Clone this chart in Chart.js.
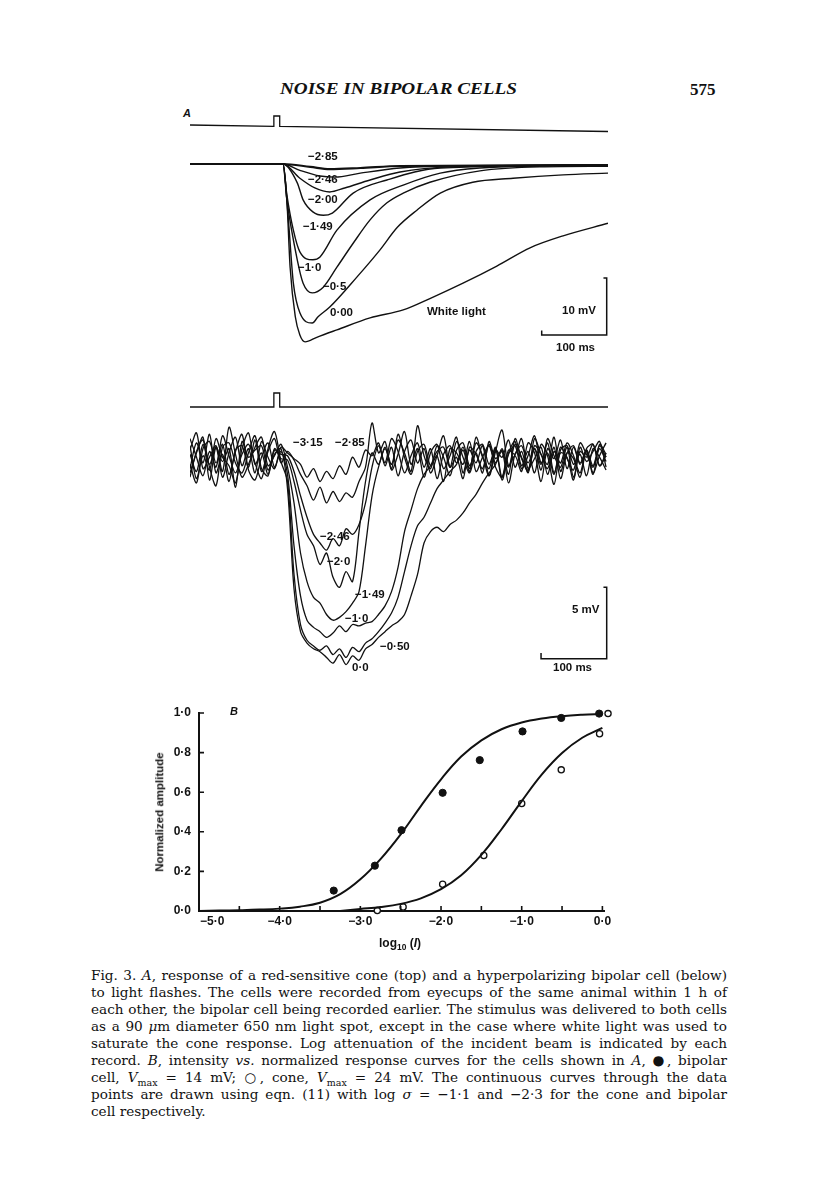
<!DOCTYPE html>
<html>
<head>
<meta charset="utf-8">
<script src="https://cdn.jsdelivr.net/npm/chart.js@4.4.1/dist/chart.umd.min.js"></script>
<style>
  body { margin: 0; background: #fff; }
  #page { position: relative; width: 816px; height: 1181px; overflow: hidden; background: #fff; color: #111;
          font-family: "Liberation Sans", Arial, sans-serif; }
  canvas { position: absolute; }
  .t { position: absolute; white-space: nowrap; line-height: 1; }
  .lab { font-size: 11.5px; font-weight: bold; }
  .cap { position: absolute; left: 91px; width: 636px; font-family: "DejaVu Serif", "Liberation Serif", serif;
         font-size: 13.6px; line-height: 16px; text-align: justify; text-align-last: justify; }
  .cap.last { text-align-last: left; }
  sub { font-size: 70%; line-height: 0; }
</style>
</head>
<body>
<div id="page">
  <div class="t" id="head" style="left:280px;top:81px;font-family:'Liberation Serif',serif;font-style:italic;font-weight:bold;font-size:16px;">NOISE IN BIPOLAR CELLS</div>
  <div class="t" style="left:690px;top:81px;font-family:'Liberation Serif',serif;font-weight:bold;font-size:17px;">575</div>

  <div class="t" style="left:183px;top:108px;font-style:italic;font-weight:bold;font-size:11px;">A</div>

  <canvas id="coneStim" width="418" height="26" style="left:190px;top:110px;"></canvas>
  <canvas id="coneChart" width="418" height="200" style="left:190px;top:150px;"></canvas>
  <canvas id="bipStim" width="418" height="30" style="left:190px;top:385px;"></canvas>
  <canvas id="bipChart" width="418" height="265" style="left:190px;top:415px;"></canvas>
  <canvas id="doseChart" width="520" height="245" style="left:100px;top:695px;"></canvas>

  <!-- cone labels -->
  <div class="t lab" style="left:308px;top:151px;">−2·85</div>
  <div class="t lab" style="left:308px;top:174px;">−2·46</div>
  <div class="t lab" style="left:308px;top:194px;">−2·00</div>
  <div class="t lab" style="left:303px;top:221px;">−1·49</div>
  <div class="t lab" style="left:298px;top:262px;">−1·0</div>
  <div class="t lab" style="left:323px;top:281px;">−0·5</div>
  <div class="t lab" style="left:330px;top:307px;">0·00</div>
  <div class="t lab" style="left:427px;top:306px;">White light</div>
  <div class="t lab" style="left:562px;top:305px;">10 mV</div>
  <div class="t lab" style="left:556px;top:342px;">100 ms</div>

  <!-- bipolar labels -->
  <div class="t lab" style="left:293px;top:437px;">−3·15</div>
  <div class="t lab" style="left:335px;top:437px;">−2·85</div>
  <div class="t lab" style="left:320px;top:531px;">−2·46</div>
  <div class="t lab" style="left:327px;top:556px;">−2·0</div>
  <div class="t lab" style="left:355px;top:589px;">−1·49</div>
  <div class="t lab" style="left:345px;top:613px;">−1·0</div>
  <div class="t lab" style="left:380px;top:641px;">−0·50</div>
  <div class="t lab" style="left:352px;top:662px;">0·0</div>
  <div class="t lab" style="left:572px;top:604px;">5 mV</div>
  <div class="t lab" style="left:553px;top:662px;">100 ms</div>

  <!-- panel B texts -->
  <div class="t" style="left:230px;top:706px;font-style:italic;font-weight:bold;font-size:11px;">B</div>
  <div class="t" style="left:160px;top:812px;font-size:11.5px;font-weight:bold;transform:translate(-50%,-50%) rotate(-90deg);">Normalized amplitude</div>
  <div class="t" style="left:400px;top:943px;font-size:12px;font-weight:bold;transform:translate(-50%,-50%);">log<sub>10</sub> (<i>I</i>)</div>

  <!-- caption -->
  <div class="cap" style="top:967px;">Fig. 3. <i>A</i>, response of a red-sensitive cone (top) and a hyperpolarizing bipolar cell (below)</div>
  <div class="cap" style="top:984px;">to light flashes. The cells were recorded from eyecups of the same animal within 1 h of</div>
  <div class="cap" style="top:1001px;">each other, the bipolar cell being recorded earlier. The stimulus was delivered to both cells</div>
  <div class="cap" style="top:1018px;">as a 90 <i>μ</i>m diameter 650 nm light spot, except in the case where white light was used to</div>
  <div class="cap" style="top:1035px;">saturate the cone response. Log attenuation of the incident beam is indicated by each</div>
  <div class="cap" style="top:1052px;">record. <i>B</i>, intensity <i>vs.</i> normalized response curves for the cells shown in <i>A</i>, ●, bipolar</div>
  <div class="cap" style="top:1069px;">cell, <i>V</i><sub>max</sub> = 14 mV; ○, cone, <i>V</i><sub>max</sub> = 24 mV. The continuous curves through the data</div>
  <div class="cap" style="top:1086px;">points are drawn using eqn. (11) with log <i>σ</i> = −1·1 and −2·3 for the cone and bipolar</div>
  <div class="cap last" style="top:1103px;">cell respectively.</div>
</div>

<script>
// ---------- A (top): red-sensitive cone, time in ms, voltage in mV ----------
const coneStimT = [0, 129, 129, 138, 138, 643];
const coneStimV = [0, -0.15, 1, 1, -0.16, -0.72];

const coneWhite = [[0,0],[143,0],[149,-6.3],[154,-18.1],[162,-26.8],[169,-30.0],[177,-31.2],[195,-30.4],[226,-29.1],[277,-27.0],[328,-25.6],[369,-23.6],[420,-20.9],[472,-17.9],[523,-14.7],[574,-12.6],[643,-10.4]];
const cone000 = [[0,0],[143,0],[151,-9.3],[159,-20.9],[169,-26.1],[188,-27.9],[197,-26.8],[215,-25.1],[257,-19.8],[292,-15.1],[319,-11.1],[349,-8.1],[385,-5.1],[435,-3.2],[497,-2.5],[574,-1.9],[643,-1.6]];
const cone050 = [[0,0],[143,0],[149,-6.3],[165,-16.8],[174,-20.9],[188,-22.6],[205,-21.6],[226,-18.1],[251,-13.9],[277,-9.8],[303,-6.8],[328,-5.1],[369,-3.2],[446,-1.2],[538,-0.5],[643,-0.4]];
const cone100 = [[0,0],[143,0],[149,-5.4],[159,-11.6],[169,-15.4],[189,-16.8],[200,-16.3],[226,-11.6],[277,-6.3],[328,-3.7],[385,-1.6],[446,-0.7],[538,-0.35],[643,-0.2]];
const cone149 = [[0,0],[143,0],[165,-3.3],[174,-6.3],[189,-8.4],[205,-9.0],[219,-8.6],[251,-5.1],[303,-2.8],[385,-0.7],[643,-0.2]];
const cone200 = [[0,0],[143,0],[169,-2.5],[192,-4.2],[215,-4.9],[238,-4.2],[277,-2.8],[323,-1.4],[400,-0.5],[643,-0.2]];
const cone246 = [[0,0],[143,0],[169,-1.1],[200,-2.1],[223,-2.3],[262,-1.6],[323,-0.7],[400,-0.35],[643,-0.2]];
const cone285 = [[0,0],[143,0],[185,-0.5],[215,-0.9],[262,-0.7],[323,-0.35],[643,-0.2]];
const coneBarT = [541, 541, 641, 641, 636];
const coneBarV = [-29.2, -30, -30, -20, -20];

// ---------- A (below): hyperpolarizing bipolar cell ----------
const bipStimT = [0, 129, 129, 138, 138, 643];
const bipStimV = [0, 0, 1, 1, 0, 0];

const bipT = [0,10,20,30,40,50,60,70,80,90,100,110,120,130,140,150,160,170,180,190,200,210,220,230,240,250,260,270,280,290,
  300,310,320,330,340,350,360,370,380,390,400,410,420,430,440,450,460,470,480,490,500,510,520,530,540,550,560,570,580,590,
  600,610,620,630,640];
const bip315 = [0.4,-0.8,1.1,-0.3,0.9,-1.2,0.5,1.6,-0.4,0.8,-0.9,1.3,0.2,-0.6,0.9,
  0.5,0.1,-0.3,-1.2,-0.6,-1.5,-0.8,-1.3,-0.4,-1.0,0.2,-0.5,0.7,0.3,1.2,
  -0.4,0.9,-1.1,0.6,1.4,-0.2,0.8,-0.9,0.3,1.7,-0.5,0.2,-1.3,0.9,0.4,-0.6,1.1,-0.2,0.7,-1.0,1.5,0.1,-0.7,0.8,-0.3,1.2,-0.9,0.5,0.2,-1.4,0.9,-0.1,0.6,1.3,-0.5];
const bip285 = [-0.6,1.2,-0.2,1.8,-0.9,0.4,-1.5,0.7,1.0,-0.5,1.4,-0.8,0.6,1.5,-0.2,
  0.6,0.0,-1.0,-1.8,-2.8,-1.9,-3.0,-2.2,-2.9,-2.3,-2.6,-1.5,-0.5,2.6,0.5,
  1.3,-0.7,0.4,2.0,-0.3,0.8,-1.2,0.5,1.1,-0.6,0.3,1.6,-0.9,0.7,-0.2,1.0,-1.1,0.6,2.1,-0.4,0.3,-0.8,1.2,0.5,-1.5,0.8,0.1,1.4,-0.6,0.9,-0.3,0.6,-1.0,1.1,0.4];
const bip246 = [1.0,-1.3,0.3,-0.7,1.5,0.2,-0.4,-1.6,0.8,1.9,-0.3,0.5,-1.0,0.7,0.4,
  0.3,-0.8,-2.5,-4.0,-5.2,-5.8,-6.3,-5.5,-6.0,-4.8,-5.2,-4.5,-3.0,-0.5,1.0,
  -0.2,1.5,0.6,-0.9,0.3,1.2,-0.5,0.8,-1.3,0.4,1.0,-0.2,0.7,-0.8,1.6,0.2,-0.6,0.9,-1.2,0.5,1.3,-0.4,0.6,-0.9,1.1,0.3,-1.7,0.7,1.0,-0.3,0.4,-1.1,0.8,0.2,-0.7];
const bip200 = [-1.2,0.6,1.4,-0.5,-1.8,0.9,1.2,-0.2,-0.9,0.5,1.7,-0.6,-1.1,0.8,0.1,
  0.0,-1.5,-3.5,-5.2,-6.0,-7.3,-6.5,-8.2,-8.9,-7.8,-8.5,-5.0,-1.5,0.5,-0.3,
  0.9,-0.6,1.8,0.2,-1.0,0.6,1.1,-0.4,0.3,-1.5,0.8,0.5,-0.3,1.3,-0.8,0.2,1.0,-0.5,-1.2,0.7,0.4,1.5,-0.6,0.1,0.9,-1.0,0.6,-0.2,1.2,0.3,-0.9,0.7,-0.4,1.0,0.2];
const bip149 = [0.7,1.9,-0.6,0.2,1.0,-0.8,2.3,0.4,-1.2,-0.3,0.9,1.6,-0.4,0.3,1.1,
  -0.5,-3.0,-6.5,-8.5,-9.6,-10.0,-10.8,-11.2,-11.0,-10.6,-10.0,-9.2,-6.0,-2.5,-0.5,
  0.8,-0.3,1.4,0.5,-0.8,2.4,0.3,-0.6,1.0,0.2,-1.1,0.7,1.2,-0.4,0.5,-0.9,1.3,0.1,0.6,-1.6,0.4,1.0,-0.2,0.8,-0.7,1.5,0.3,-0.5,0.9,-1.2,0.6,0.2,1.1,-0.4,0.5];
const bip100 = [-0.3,-1.6,0.8,1.3,-0.2,1.1,-1.0,0.6,1.8,-0.7,-1.4,0.2,1.2,-0.5,0.6,
  -1.0,-6.0,-9.5,-11.2,-11.7,-12.0,-12.4,-12.1,-11.6,-12.0,-11.5,-11.6,-11.4,-11.3,-10.8,
  -10.2,-9.2,-7.5,-5.0,-3.5,-2.0,-1.0,-0.4,0.6,0.9,-0.5,1.3,0.2,-0.9,0.6,1.1,-0.3,0.8,-1.4,0.4,1.0,-0.6,0.3,1.7,-0.2,0.5,-1.0,0.9,0.1,-0.7,1.2,0.4,-0.5,0.8,-0.1];
const bip050 = [1.5,0.2,-1.1,0.6,-0.5,1.7,0.3,-0.9,0.4,1.1,-0.2,-1.3,0.8,2.0,-0.1,
  -1.5,-8.0,-11.5,-12.6,-13.0,-13.3,-13.0,-13.6,-13.2,-13.8,-13.1,-13.4,-12.8,-12.5,-12.0,
  -11.4,-10.7,-9.6,-7.8,-6.0,-4.6,-4.0,-3.0,-2.0,-1.4,-0.8,-0.3,0.9,-0.6,1.2,0.3,-1.1,0.7,0.2,1.4,-0.5,0.6,-0.9,1.0,0.4,-0.3,1.6,-0.8,0.5,0.1,-1.2,0.8,1.1,-0.4,0.3];
const bip000 = [-0.9,0.5,1.6,-1.4,0.9,-0.1,0.8,-1.9,1.3,0.2,0.7,1.0,-0.7,0.4,0.8,
  -2.0,-9.0,-12.0,-12.8,-13.2,-13.4,-13.8,-14.2,-13.6,-14.3,-13.7,-14.0,-13.2,-12.9,-12.4,
  -12.0,-11.6,-11.3,-10.8,-9.5,-8.0,-5.8,-5.0,-4.7,-5.0,-4.5,-4.2,-3.7,-3.0,-2.4,-1.6,-0.9,-0.3,0.8,-0.5,1.1,0.2,-0.8,1.5,0.4,-0.6,0.9,-1.3,0.5,1.0,-0.2,0.7,-0.9,0.3,1.2];
const bipBarT = [540, 540, 641, 641, 636];
const bipBarV = [-13.5, -13.9, -13.9, -8.9, -8.9];

// ---------- B: intensity vs normalized amplitude ----------
const curveX = [-5.0,-4.75,-4.5,-4.25,-4.0,-3.75,-3.5,-3.25,-3.0,-2.75,-2.5,-2.25,-2.0,-1.75,-1.5,-1.25,-1.0,-0.75,-0.5,-0.25,0.0];
const bipCurveY = [0.0,0.002,0.004,0.007,0.012,0.022,0.042,0.085,0.16,0.262,0.387,0.53,0.665,0.78,0.862,0.918,0.952,0.972,0.984,0.991,0.995];
const coneCurveX = [-3.25,-3.0,-2.75,-2.5,-2.25,-2.0,-1.75,-1.5,-1.25,-1.0,-0.75,-0.5,-0.25,0.0];
const coneCurveY = [0.0,0.01,0.02,0.036,0.064,0.11,0.18,0.283,0.413,0.555,0.69,0.798,0.875,0.925];
const bipPtsX = [-3.33,-2.82,-2.49,-1.98,-1.52,-0.99,-0.51,-0.04];
const bipPtsY = [0.103,0.229,0.408,0.597,0.762,0.907,0.975,0.997];
const conePtsX = [-2.79,-2.47,-1.98,-1.47,-1.0,-0.51,-0.035,0.07];
const conePtsY = [0.002,0.02,0.135,0.28,0.543,0.713,0.895,0.997];
const xMajor = [-5, -4, -3, -2, -1, 0];
const xLabels = ['−5·0', '−4·0', '−3·0', '−2·0', '−1·0', '0·0'];
const xMarks = [-4.5, -4, -3.5, -3, -2.5, -2, -1.5, -1, -0.5, 0];
const yMarks = [0.2, 0.4, 0.6, 0.8, 1.0];

const INK = '#111';
const SANS = '"Liberation Sans", Arial, sans-serif';

function pairs(xs, ys) {
  return xs.map((x, i) => ({ x: x, y: ys[i] }));
}
function fromPairs(arr) {
  return arr.map(p => ({ x: p[0], y: p[1] }));
}

function traceLine(data, width, extra) {
  return Object.assign({
    data: data,
    borderColor: INK,
    borderWidth: width,
    pointRadius: 0,
    fill: false
  }, extra || {});
}

// plain chart with hidden axes, the canvas is the plot area
function traceChart(id, datasets, xmin, xmax, ymin, ymax) {
  return new Chart(document.getElementById(id), {
    type: 'line',
    data: { datasets: datasets },
    options: {
      responsive: false,
      animation: false,
      layout: { padding: 0 },
      plugins: { legend: { display: false }, tooltip: { enabled: false } },
      scales: {
        x: { type: 'linear', min: xmin, max: xmax, display: false },
        y: { type: 'linear', min: ymin, max: ymax, display: false }
      }
    }
  });
}

// stimulus traces
traceChart('coneStim', [traceLine(pairs(coneStimT, coneStimV), 1.3)], 0, 643, -1.222, 1.667);
traceChart('bipStim', [traceLine(pairs(bipStimT, bipStimV), 1.3)], 0, 643, -0.571, 1.571);

// cone records
const smooth = { cubicInterpolationMode: 'monotone' };
traceChart('coneChart', [
  traceLine(fromPairs(cone285), 2.2, smooth),
  traceLine(fromPairs(cone246), 1.4, smooth),
  traceLine(fromPairs(cone200), 1.4, smooth),
  traceLine(fromPairs(cone149), 1.4, smooth),
  traceLine(fromPairs(cone100), 1.4, smooth),
  traceLine(fromPairs(cone050), 1.4, smooth),
  traceLine(fromPairs(cone000), 1.4, smooth),
  traceLine(fromPairs(coneWhite), 1.4, smooth),
  traceLine(pairs(coneBarT, coneBarV), 1.5)
], 0, 643, -32.63, 2.46);

// bipolar records
const noisy = { tension: 0.3 };
traceChart('bipChart', [
  traceLine(pairs(bipT, bip315), 1.3, noisy),
  traceLine(pairs(bipT, bip285), 1.3, noisy),
  traceLine(pairs(bipT, bip246), 1.3, noisy),
  traceLine(pairs(bipT, bip200), 1.3, noisy),
  traceLine(pairs(bipT, bip149), 1.3, noisy),
  traceLine(pairs(bipT, bip100), 1.3, noisy),
  traceLine(pairs(bipT, bip050), 1.3, noisy),
  traceLine(pairs(bipT, bip000), 1.3, noisy),
  traceLine(pairs(bipBarT, bipBarV), 1.5)
], 0, 643, -15.38, 3.15);

// inward tick marks and x labels of panel B
const inwardTicks = {
  id: 'inwardTicks',
  afterDraw(chart) {
    const ctx = chart.ctx;
    const a = chart.chartArea;
    const x = chart.scales.x, y = chart.scales.y;
    ctx.save();
    ctx.strokeStyle = INK;
    ctx.lineWidth = 1.6;
    ctx.beginPath();
    xMarks.forEach(v => {
      const px = x.getPixelForValue(v);
      ctx.moveTo(px, a.bottom);
      ctx.lineTo(px, a.bottom - 5);
    });
    yMarks.forEach(v => {
      const py = y.getPixelForValue(v);
      ctx.moveTo(a.left, py);
      ctx.lineTo(a.left + 5, py);
    });
    ctx.stroke();
    ctx.fillStyle = INK;
    ctx.font = 'bold 12px ' + SANS;
    ctx.textBaseline = 'middle';
    xMajor.forEach((v, i) => {
      ctx.textAlign = i === 0 ? 'left' : 'center';
      ctx.fillText(xLabels[i], x.getPixelForValue(v) + (i === 0 ? 1 : 0), a.bottom + 11);
    });
    ctx.restore();
  }
};

new Chart(document.getElementById('doseChart'), {
  type: 'line',
  data: {
    datasets: [
      traceLine(pairs(curveX, bipCurveY), 2, { tension: 0.4 }),
      traceLine(pairs(coneCurveX, coneCurveY), 2, { tension: 0.4 }),
      {
        data: pairs(bipPtsX, bipPtsY),
        showLine: false,
        pointRadius: 3.6,
        pointBackgroundColor: INK,
        pointBorderColor: INK,
        pointBorderWidth: 1,
        clip: false
      },
      {
        data: pairs(conePtsX, conePtsY),
        showLine: false,
        pointRadius: 3.1,
        pointBackgroundColor: '#fff',
        pointBorderColor: INK,
        pointBorderWidth: 1.3,
        clip: false
      }
    ]
  },
  options: {
    responsive: false,
    animation: false,
    layout: { padding: { top: 18, right: 16, left: 0, bottom: 0 } },
    plugins: { legend: { display: false }, tooltip: { enabled: false } },
    scales: {
      x: {
        type: 'linear', min: -5, max: 0.02,
        afterFit: s => { s.height = 29; },
        ticks: { display: false },
        grid: { display: false, drawTicks: false },
        border: { display: true, color: INK, width: 2 }
      },
      y: {
        type: 'linear', min: 0, max: 1,
        afterFit: s => { s.width = 99; },
        ticks: {
          stepSize: 0.2, padding: 8, color: INK,
          font: { family: SANS, size: 12, weight: 'bold' },
          callback: v => v.toFixed(1).replace('.', '·')
        },
        grid: { display: false, drawTicks: false },
        border: { display: true, color: INK, width: 2 }
      }
    }
  },
  plugins: [inwardTicks]
});

// fit the running head to its printed width
const head = document.getElementById('head');
head.style.transformOrigin = 'left center';
head.style.transform = 'scaleX(' + (237 / head.offsetWidth) + ')';
</script>
</body>
</html>
